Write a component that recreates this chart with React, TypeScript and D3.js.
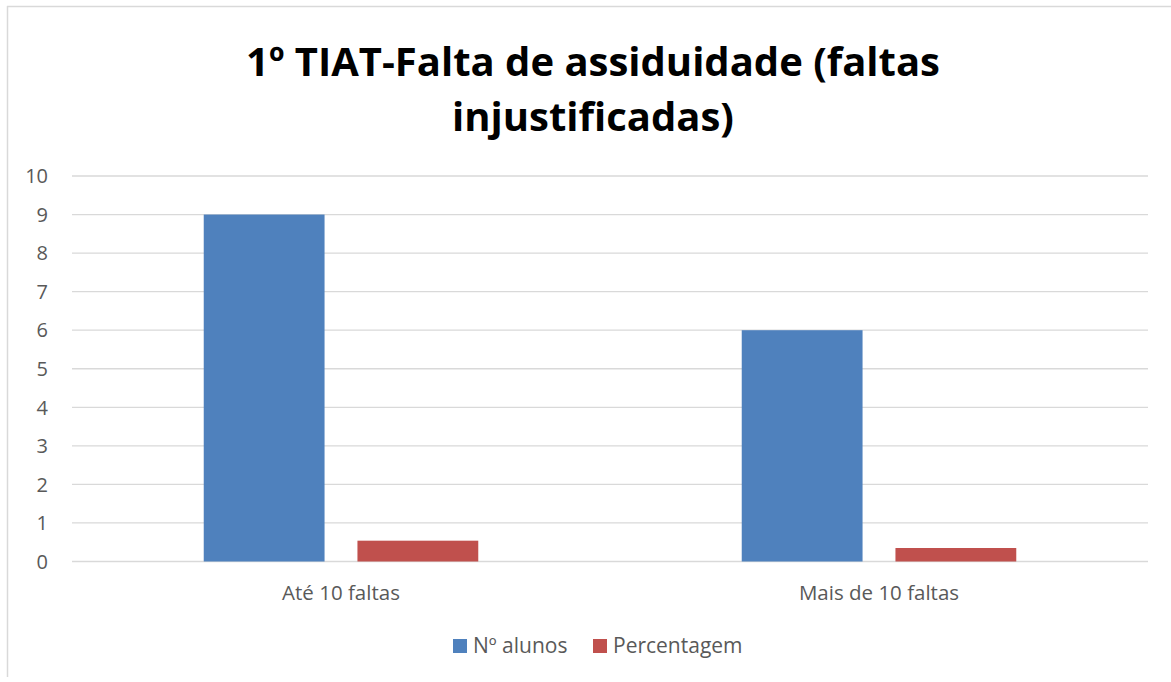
import * as d3 from 'd3'

const categories = ['Até 10 faltas', 'Mais de 10 faltas']
const seriesNames = ['Nº alunos', 'Percentagem']
const alunos = [9, 6]
const percentagem = [0.54, 0.35]
const yTicks = [0, 1, 2, 3, 4, 5, 6, 7, 8, 9, 10]
const titleLines = ['1º TIAT-Falta de assiduidade (faltas', 'injustificadas)']

const colors = ['#4F81BD', '#C0504D']
const textColor = '#595959'
const font = "'Open Sans', 'Liberation Sans', sans-serif"

export default function App() {
  const width = 1171
  const height = 682
  const plot = { left: 72, right: 1148, top: 176, bottom: 561.5 }

  const x0 = d3.scaleBand<string>()
    .domain(categories)
    .range([plot.left, plot.right])
    .padding(0)

  const x1 = d3.scaleBand<string>()
    .domain(seriesNames)
    .range([0, x0.bandwidth()])
    .paddingInner(0.214)
    .paddingOuter(0.857)

  const y = d3.scaleLinear().domain([0, 10]).range([plot.bottom, plot.top])

  const series = [alunos, percentagem]

  return (
    <svg
      width={width}
      height={height}
      style={{ position: 'absolute', left: 0, top: 0, background: '#fff' }}
    >
      <rect x={0} y={0} width={width} height={height} fill="#fff" />
      {/* chart frame, cut off at right and bottom */}
      <line x1={7} x2={width} y1={6.5} y2={6.5} stroke="#D9D9D9" strokeWidth={1.5} />
      <line x1={7.5} x2={7.5} y1={6} y2={677} stroke="#D9D9D9" strokeWidth={1.5} />

      {titleLines.map((t, i) => (
        <text
          key={i}
          x={593}
          y={76 + i * 55}
          textAnchor="middle"
          fontFamily={font}
          fontWeight={700}
          fontSize={40}
          fill="#000"
        >
          {t}
        </text>
      ))}

      {yTicks.map(t => (
        <g key={t}>
          <line
            x1={plot.left}
            x2={plot.right}
            y1={y(t)}
            y2={y(t)}
            stroke="#D9D9D9"
            strokeWidth={1.3}
          />
          <text
            x={48}
            y={y(t)}
            dy="0.36em"
            textAnchor="end"
            fontFamily={font}
            fontSize={20}
            fill={textColor}
          >
            {t}
          </text>
        </g>
      ))}

      {categories.map((c, ci) => (
        <g key={c} transform={`translate(${x0(c)},0)`}>
          {seriesNames.map((s, si) => (
            <rect
              key={s}
              x={x1(s)}
              y={y(series[si][ci])}
              width={x1.bandwidth()}
              height={plot.bottom - y(series[si][ci])}
              fill={colors[si]}
            />
          ))}
          <text
            x={x0.bandwidth() / 2}
            y={600}
            textAnchor="middle"
            fontFamily={font}
            fontSize={20.5}
            fill={textColor}
          >
            {c}
          </text>
        </g>
      ))}

      <g>
        <rect x={453} y={639} width={14} height={14} fill={colors[0]} />
        <text x={473} y={653} fontFamily={font} fontSize={21} fill={textColor}>
          {seriesNames[0]}
        </text>
        <rect x={593} y={639} width={14} height={14} fill={colors[1]} />
        <text x={613} y={653} fontFamily={font} fontSize={21} fill={textColor}>
          {seriesNames[1]}
        </text>
      </g>
    </svg>
  )
}
